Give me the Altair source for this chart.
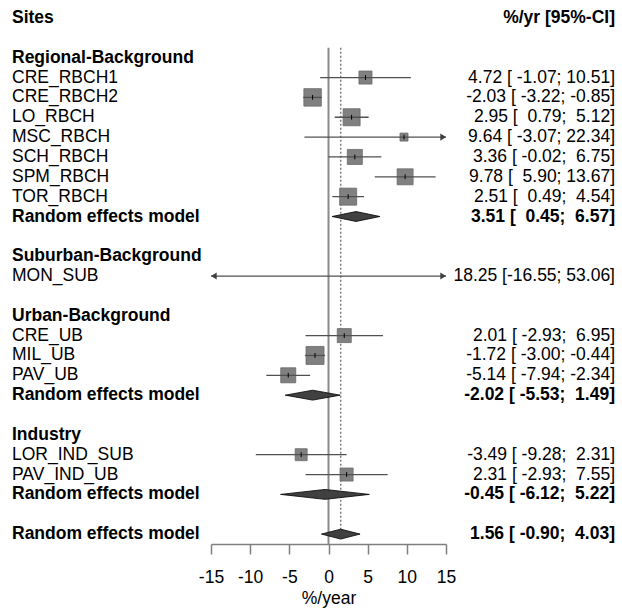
import altair as alt
import pandas as pd

# ---------------- data ----------------
groups = ["Regional-Background", "Suburban-Background", "Urban-Background", "Industry"]
sites = ["CRE_RBCH1", "CRE_RBCH2", "LO_RBCH", "MSC_RBCH", "SCH_RBCH", "SPM_RBCH", "TOR_RBCH",
         "MON_SUB", "CRE_UB", "MIL_UB", "PAV_UB", "LOR_IND_SUB", "PAV_IND_UB"]
site_group = [0, 0, 0, 0, 0, 0, 0, 1, 2, 2, 2, 3, 3]
est = [4.72, -2.03, 2.95, 9.64, 3.36, 9.78, 2.51, 18.25, 2.01, -1.72, -5.14, -3.49, 2.31]
lower = [-1.07, -3.22, 0.79, -3.07, -0.02, 5.90, 0.49, -16.55, -2.93, -3.00, -7.94, -9.28, -2.93]
upper = [10.51, -0.85, 5.12, 22.34, 6.75, 13.67, 4.54, 53.06, 6.95, -0.44, -2.34, 2.31, 7.55]
weight = [6.4, 11.5, 10.9, 2.4, 8.5, 9.6, 10.9, 0.5, 7.4, 12.2, 8.5, 5.4, 6.4]

rem_group = [0, 2, 3]
rem_est = [3.51, -2.02, -0.45]
rem_lower = [0.45, -5.53, -6.12]
rem_upper = [6.57, 1.49, 5.22]

overall_est = 1.56
overall_lower = -0.90
overall_upper = 4.03

x_ticks = [-15, -10, -5, 0, 5, 10, 15]
XMIN, XMAX = -15, 15
FONT = "Liberation Sans"
FS = 17.5


def fmt(e, l, u):
    return f"{e:.2f} [{l:6.2f}; {u:5.2f}]".replace(" ", "\u00a0")


# ---------------- layout rows ----------------
labels = [{"row": 0, "text": "Sites", "bold": True}]
right = [{"row": 0, "text": "%/yr [95%-CI]", "bold": True}]
study_rows = []
diamonds = []
row = 2
for gi, g in enumerate(groups):
    labels.append({"row": row, "text": g, "bold": True})
    row += 1
    for i, s in enumerate(sites):
        if site_group[i] != gi:
            continue
        labels.append({"row": row, "text": s, "bold": False})
        right.append({"row": row, "text": fmt(est[i], lower[i], upper[i]), "bold": False})
        study_rows.append({"row": row, "est": est[i], "lo": lower[i], "hi": upper[i],
                           "w": weight[i]})
        row += 1
    if gi in rem_group:
        k = rem_group.index(gi)
        labels.append({"row": row, "text": "Random effects model", "bold": True})
        right.append({"row": row, "text": fmt(rem_est[k], rem_lower[k], rem_upper[k]), "bold": True})
        diamonds.append({"row": row, "est": rem_est[k], "lo": rem_lower[k], "hi": rem_upper[k]})
        row += 1
    row += 1
labels.append({"row": row, "text": "Random effects model", "bold": True})
right.append({"row": row, "text": fmt(overall_est, overall_lower, overall_upper), "bold": True})
diamonds.append({"row": row, "est": overall_est, "lo": overall_lower, "hi": overall_upper})
last_row = row

lab_df = pd.DataFrame(labels)
right_df = pd.DataFrame(right)
st = pd.DataFrame(study_rows)
st["lo_c"] = st["lo"].clip(XMIN, XMAX)
st["hi_c"] = st["hi"].clip(XMIN, XMAX)
inrange = st[(st["est"] >= XMIN) & (st["est"] <= XMAX)]

arrows_r = st[st["hi"] > XMAX][["row", "hi_c"]].rename(columns={"hi_c": "x"})
arrows_l = st[st["lo"] < XMIN][["row", "lo_c"]].rename(columns={"lo_c": "x"})

dpts = []
for j, d in enumerate(diamonds):
    dpts.append({"id": j, "x": d["lo"], "ylo": d["row"], "yhi": d["row"]})
    dpts.append({"id": j, "x": d["est"], "ylo": d["row"] - 0.25, "yhi": d["row"] + 0.25})
    dpts.append({"id": j, "x": d["hi"], "ylo": d["row"], "yhi": d["row"]})
dia_df = pd.DataFrame(dpts)

ref_df = pd.DataFrame([{"x": 0, "y": 1.5, "y2": last_row + 0.5},
                       {"x": overall_est, "y": 1.5, "y2": last_row}])

# ---------------- scales ----------------
xs = alt.Scale(domain=[XMIN, XMAX], range=[211, 446], nice=False, zero=False)
ys = alt.Scale(domain=[0, last_row], range=[18, 534.1], zero=False, nice=False)
x_axis = alt.Axis(values=x_ticks, grid=False, tickSize=10, tickWidth=1.5,
                  domainWidth=1.5, domainColor="#7f7f7f", tickColor="#7f7f7f",
                  labelFont=FONT, labelFontSize=FS, labelColor="black",
                  labelExpr="datum.value + ''",
                  labelPadding=14, titleFont=FONT, titleFontSize=FS,
                  titleFontWeight="normal", titleColor="black", titlePadding=4,
                  labelFlush=False)
X = lambda f: alt.X(f, type="quantitative", scale=xs, axis=x_axis, title="%/year")
Y = lambda f: alt.Y(f, type="quantitative", scale=ys, axis=None, stack=None)

zero_line = alt.Chart(ref_df.iloc[[0]]).mark_rule(color="#8a8a8a", strokeWidth=2).encode(
    x=X("x"), y=Y("y"), y2="y2")
re_line = alt.Chart(ref_df.iloc[[1]]).mark_rule(color="#7f7f7f", strokeWidth=1.5,
                                                strokeDash=[2, 2]).encode(
    x=X("x"), y=Y("y"), y2="y2")

squares = alt.Chart(inrange).mark_square(fill="#808080", stroke="#6a6a6a", strokeWidth=0.8,
                                         opacity=1).encode(
    x=X("est"), y=Y("row"),
    size=alt.Size("w:Q", scale=alt.Scale(domain=[0, 100], range=[0, 2656]), legend=None))

ci = alt.Chart(st).mark_rule(color="#505050", strokeWidth=1.3).encode(
    x=X("lo_c"), x2="hi_c", y=Y("row"))

est_tick = alt.Chart(inrange).transform_calculate(
    t1="datum.row - 0.12", t2="datum.row + 0.12").mark_rule(
    color="black", strokeWidth=1).encode(x=X("est"), y=Y("t1:Q"), y2="t2:Q")

arr_r = alt.Chart(arrows_r).mark_point(shape="M -1.6 -1 L 0 0 L -1.6 1 Z", filled=True,
                                       color="#404040", size=50, opacity=1).encode(
    x=X("x"), y=Y("row"))
arr_l = alt.Chart(arrows_l).mark_point(shape="M 1.6 -1 L 0 0 L 1.6 1 Z", filled=True,
                                       color="#404040", size=50, opacity=1).encode(
    x=X("x"), y=Y("row"))

dia = alt.Chart(dia_df).mark_area(orient="vertical", fill="#404040", stroke="black",
                                  strokeWidth=0.8, opacity=1, interpolate="linear").encode(
    x=X("x"), y=Y("ylo"), y2="yhi", detail="id:N")

left_norm = alt.Chart(lab_df[~lab_df["bold"]]).mark_text(
    align="left", baseline="middle", font=FONT, fontSize=FS, color="black").encode(
    x=alt.value(12), y=Y("row"), text="text:N")
left_bold = alt.Chart(lab_df[lab_df["bold"]]).mark_text(
    align="left", baseline="middle", font=FONT, fontSize=FS, fontWeight="bold",
    color="black").encode(x=alt.value(12), y=Y("row"), text="text:N")
right_norm = alt.Chart(right_df[~right_df["bold"]]).mark_text(
    align="right", baseline="middle", font=FONT, fontSize=FS, color="black").encode(
    x=alt.value(615), y=Y("row"), text="text:N")
right_bold = alt.Chart(right_df[right_df["bold"]]).mark_text(
    align="right", baseline="middle", font=FONT, fontSize=FS, fontWeight="bold",
    color="black").encode(x=alt.value(615), y=Y("row"), text="text:N")

chart = alt.layer(
    zero_line, re_line, squares, ci, est_tick, arr_r, arr_l, dia,
    left_norm, left_bold, right_norm, right_bold
).properties(
    width=622, height=544,
    background="white",
    autosize=alt.AutoSizeParams(type="none"),
    padding={"left": 0, "right": 0, "top": 0, "bottom": 64},
).configure_view(strokeWidth=0, stroke=None)

chart.save("out.html", embed_options={"renderer": "svg", "actions": False})
